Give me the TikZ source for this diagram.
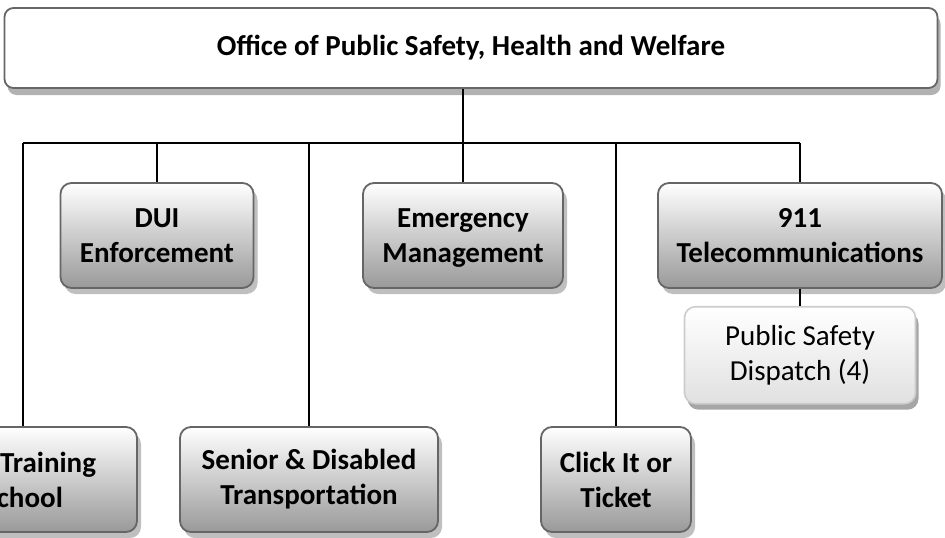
\documentclass[tikz,border=0pt]{standalone}
\usepackage{fontspec}
\setmainfont{Carlito}
\usetikzlibrary{shadows,positioning}

\begin{document}
\begin{tikzpicture}[x=1pt,y=-1pt,line width=1.5pt,
    head node/.style={rectangle,rounded corners=9pt,draw=black!60,line width=1.8pt,fill=white,
        drop shadow={shadow xshift=3pt,shadow yshift=-7pt,fill=black!30,opacity=1},
        minimum width=933pt,minimum height=80pt,font=\bfseries\fontsize{29}{35}\selectfont},
    main node/.style={rectangle,rounded corners=11pt,draw=black!60,line width=1.8pt,
        top color=white,bottom color=black!40,align=center,
        drop shadow={shadow xshift=4pt,shadow yshift=-6pt,fill=black!25,opacity=1},
        minimum height=105pt,inner sep=0pt,font=\bfseries\fontsize{29}{35}\selectfont},
    sub node/.style={rectangle,rounded corners=11pt,draw=black!20,line width=1.6pt,
        top color=white,bottom color=black!12,align=center,
        drop shadow={shadow xshift=3pt,shadow yshift=-6pt,fill=black!35,opacity=1},
        minimum width=231pt,minimum height=97pt,inner sep=0pt,font=\fontsize{29}{35}\selectfont}]
      \clip (0,0) rectangle (945,538);
      % head of the office
      \node[head node] (office) at (471,48) {Office of Public Safety, Health and Welfare};
      \coordinate (bus) at (463,143);
      % divisions
      \node[main node, minimum width=228pt] (training) at (23,479.5) {\hspace*{50pt}Training\\School};
      \node[main node, minimum width=193pt] (dui) at (157,235.5) {DUI\\Enforcement};
      \node[main node, minimum width=258pt] (senior) at (309,479.5) {Senior \& Disabled\\Transportation};
      \node[main node, minimum width=200pt, text depth=0pt] (emergency) at (463,235.5) {Emergency\\Management};
      \node[main node, minimum width=150pt] (click) at (616,479.5) {Click It or\\Ticket};
      \node[main node, minimum width=284pt] (telecom) at (800,235.5) {911\\Telecommunications};
      \node[sub node] (dispatch) [below=17pt of telecom] {Public Safety\\Dispatch (4)};
      % connectors
      \draw (office.south -| bus) -- (bus);
      \draw (training.north |- bus) -- (telecom.north |- bus);
      \foreach \n in {training,dui,senior,emergency,click,telecom}
        \draw (\n.north |- bus) -- (\n.north);
      \draw (telecom) -- (dispatch);
\end{tikzpicture}
\end{document}
